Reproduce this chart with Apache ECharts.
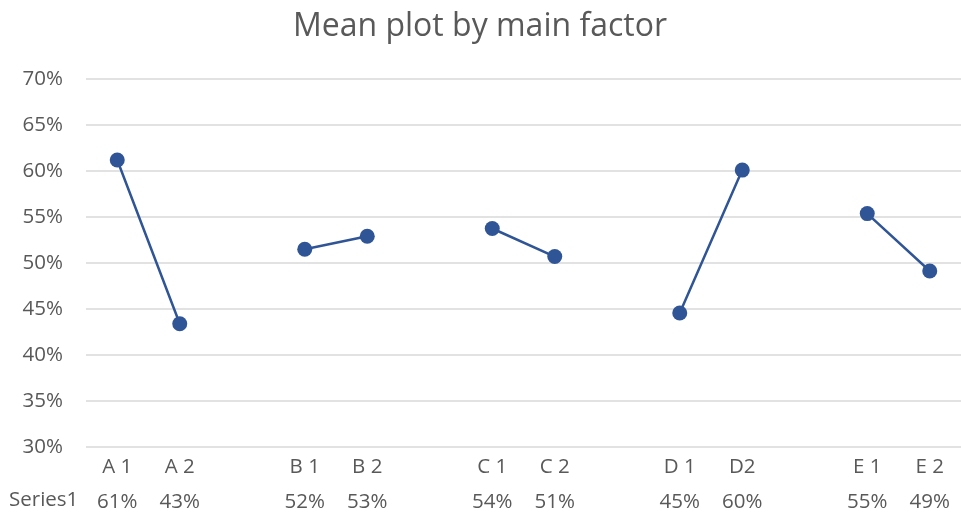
<!DOCTYPE html>
<html>
<head>
<meta charset="utf-8">
<script src="https://cdn.jsdelivr.net/npm/echarts@6/dist/echarts.min.js"></script>
<style>
  html, body { margin: 0; padding: 0; background: #ffffff; }
  #chart { width: 961px; height: 517px; }
</style>
</head>
<body>
<div id="chart"></div>
<script>
// Factor levels; empty entries separate the factor groups
const categories = ['A 1', 'A 2', '', 'B 1', 'B 2', '', 'C 1', 'C 2', '', 'D 1', 'D2', '', 'E 1', 'E 2'];
// Mean response for each level (null = group separator)
const means = [0.612, 0.434, null, 0.515, 0.529, null, 0.5375, 0.507, null, 0.4456, 0.601, null, 0.5537, 0.4913];
const seriesName = 'Series1';
const yTicks = { min: 0.30, max: 0.70, step: 0.05 };

const textColor = '#595959';
const fontFamily = '"Open Sans", "Noto Sans", sans-serif';
const labelSize = 20.5;
const pct = v => Math.round(v * 100) + '%';

const chart = echarts.init(document.getElementById('chart'), null, { renderer: 'canvas' });

chart.setOption({
  backgroundColor: '#ffffff',
  animation: false,
  title: {
    text: 'Mean plot by main factor',
    left: 475,
    textAlign: 'center',
    top: 6,
    textStyle: { color: textColor, fontFamily: fontFamily, fontSize: 32, fontWeight: 'normal' }
  },
  grid: { left: 86, top: 79, width: 878, height: 368, containLabel: false },
  xAxis: {
    type: 'category',
    data: categories,
    boundaryGap: true,
    axisLine: { show: false },
    axisTick: { show: false },
    axisLabel: {
      interval: 0,
      margin: 5,
      formatter: (value, idx) => {
        const v = means[idx];
        return '{cat|' + value + '}\n{val|' + (v == null ? '' : pct(v)) + '}';
      },
      rich: {
        cat: { color: textColor, fontFamily: fontFamily, fontSize: labelSize, lineHeight: 30 },
        val: { color: textColor, fontFamily: fontFamily, fontSize: labelSize, lineHeight: 40 }
      }
    }
  },
  yAxis: {
    type: 'value',
    min: yTicks.min,
    max: yTicks.max,
    interval: yTicks.step,
    axisLine: { show: false },
    axisTick: { show: false },
    splitLine: { lineStyle: { color: '#d9d9d9', width: 1.5 } },
    axisLabel: {
      margin: 23,
      color: textColor,
      fontFamily: fontFamily,
      fontSize: labelSize,
      formatter: v => pct(v)
    }
  },
  graphic: [{
    type: 'text',
    left: 9,
    top: 490,
    style: { text: seriesName, fill: textColor, font: labelSize + 'px ' + fontFamily }
  }],
  series: [{
    name: seriesName,
    type: 'line',
    data: means,
    connectNulls: false,
    symbol: 'circle',
    symbolSize: 15,
    itemStyle: { color: '#2f5597' },
    lineStyle: { color: '#2f5597', width: 2.5 }
  }]
});
</script>
</body>
</html>
